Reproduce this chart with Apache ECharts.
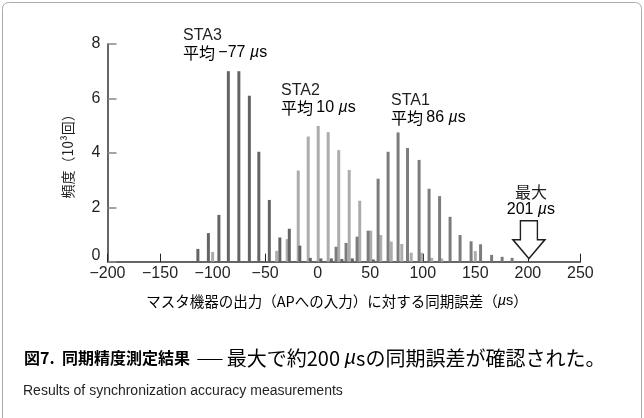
<!DOCTYPE html>
<html><head><meta charset="utf-8">
<script src="https://cdn.jsdelivr.net/npm/echarts@6.0.0/dist/echarts.min.js"></script>
<style>html,body{margin:0;padding:0;background:#fff}#c{width:644px;height:418px}</style>
</head><body><div id="c"></div>
<script>
// ---- data (µs bin position, frequency in 10^3) ----
const sta3Pos = [-114, -104, -94, -85, -75, -65, -56, -46, -36, -27, -17, -7, 3, 13, 23, 33, 53];
const sta3Val = [0.47, 1.05, 1.72, 7.0, 7.0, 6.1, 4.04, 2.27, 0.89, 1.21, 0.59, 0.14, 0.12, 0.12, 0.1, 0.12, 0.08];
const sta2Pos = [-100, -39, -29, -18.5, -9, 0.5, 10, 20, 30, 40, 50.5, 60, 70, 80, 89, 99, 108.5, 118, 150];
const sta2Val = [0.36, 0.4, 0.83, 3.35, 4.6, 4.99, 4.76, 4.1, 3.37, 2.24, 1.14, 0.98, 0.74, 0.65, 0.33, 0.33, 0.14, 0.12, 0.39];
const sta1Pos = [17.5, 27, 37.5, 48, 57.5, 67, 76.5, 85.5, 96.5, 106, 116, 126, 135.5, 146, 155, 165.5, 175.5, 185];
const sta1Val = [0.55, 0.69, 0.92, 1.14, 3.05, 4.04, 4.75, 4.18, 3.74, 2.68, 2.41, 1.65, 0.98, 0.75, 0.64, 0.25, 0.18, 0.14];
const xMin = -200, xMax = 250, xStep = 50;
const yMin = 0, yMax = 8, yStep = 2;
const maxError = 201;
const labels = [
  {name: 'STA3', mean: '−77'},
  {name: 'STA2', mean: '10'},
  {name: 'STA1', mean: '86'}
];

const F = "'Liberation Sans', Arial, 'Noto Sans CJK JP', sans-serif";
const J = "'Noto Sans CJK JP', sans-serif";
const TXT = '#231f20';
const chart = echarts.init(document.getElementById('c'), null, {renderer: 'canvas'});

function pairs(p, v) { return p.map((x, i) => [x, v[i]]); }
const barBase = {type: 'bar', barWidth: 3, barGap: '-100%', silent: true, animation: false};

chart.setOption({
  backgroundColor: '#fff',
  animation: false,
  grid: {left: 107.5, right: 63.6, top: 44, bottom: 156.3, containLabel: false},
  xAxis: {
    type: 'value', min: xMin, max: xMax, interval: xStep,
    axisLine: {show: true, onZero: false, lineStyle: {color: '#333', width: 1.5}},
    axisTick: {show: true, inside: true, length: 8, lineStyle: {color: '#222', width: 1}},
    axisLabel: {color: TXT, fontFamily: F, fontSize: 16, margin: 4,
      formatter: v => String(v).replace('-', '−')},
    splitLine: {show: false}
  },
  yAxis: {
    type: 'value', min: yMin, max: yMax, interval: yStep,
    name: '頻度（10³回）', nameLocation: 'middle', nameGap: 33, nameRotate: 90,
    nameTextStyle: {color: TXT, fontFamily: J, fontSize: 14},
    axisLine: {show: true, onZero: false, lineStyle: {color: '#333', width: 1.5}},
    axisTick: {show: true, inside: true, length: 9, lineStyle: {color: '#888', width: 1.5}},
    axisLabel: {color: TXT, fontFamily: F, fontSize: 16, margin: 7,
      formatter: v => v === 0 ? '{z|0}' : String(v),
      rich: {z: {fontFamily: F, fontSize: 16, color: TXT, padding: [0, 0, 12, 0]}}},
    splitLine: {show: false}
  },
  series: [
    Object.assign({}, barBase, {name: 'STA2', data: pairs(sta2Pos, sta2Val), itemStyle: {color: '#acacac'}}),
    Object.assign({}, barBase, {name: 'STA3', data: pairs(sta3Pos, sta3Val), itemStyle: {color: '#646464'}}),
    Object.assign({}, barBase, {name: 'STA1', data: pairs(sta1Pos, sta1Val), itemStyle: {color: '#7c7c7c'},
      markPoint: {
        silent: true,
        symbol: 'path://M7.5,0 L24.5,0 L24.5,19 L32,19 L16,38 L0,19 L7.5,19 Z',
        symbolSize: [32, 38], symbolOffset: [0, -22],
        itemStyle: {color: '#fff', borderColor: '#231f20', borderWidth: 1.5},
        label: {show: false},
        data: [{coord: [maxError, 0]}]
      }})
  ]
});

const p = chart.convertToPixel({gridIndex: 0}, [maxError, 0]);
const rich = {
  t: {fontFamily: F, fontSize: 16, color: TXT},
  j: {fontFamily: J, fontSize: 16, color: TXT},
  mu: {fontFamily: F, fontSize: 16, color: TXT, fontStyle: 'italic'}
};
function annot(x, y, lab) {
  return [
    {type: 'text', left: x, top: y - 9, style: {text: lab.name, font: '16px ' + F, fill: TXT}},
    {type: 'text', left: x, top: y + 8, style: {text: '{j|平均} {t|' + lab.mean + ' }{mu|µ}{t|s}', rich: rich}}
  ];
}
const capRich = {
  b: {fontFamily: J, fontSize: 16, fontWeight: 'bold', color: TXT},
  d: {fontFamily: J, fontSize: 16, color: TXT},
  n: {fontFamily: J, fontSize: 20, color: TXT},
  mu: {fontFamily: F, fontSize: 20, fontStyle: 'italic', color: TXT}
};
chart.setOption({
  graphic: [].concat(
    [{type: 'rect', shape: {x: 2.5, y: 2.5, width: 639, height: 440, r: 6}, style: {fill: 'none', stroke: '#aaa', lineWidth: 1}, silent: true}],
    annot(183, 37, labels[0]),
    annot(281, 92, labels[1]),
    annot(391, 102, labels[2]),
    [
      {type: 'text', x: p[0] + 2, y: 192, style: {text: '最大', font: '16px ' + J, fill: TXT, textAlign: 'center', textVerticalAlign: 'middle'}},
      {type: 'text', x: p[0] + 2, y: 210, style: {text: '{t|' + maxError + ' }{mu|µ}{t|s}', rich: rich, textAlign: 'center', textVerticalAlign: 'middle'}},
      {type: 'text', x: 337, y: 301, style: {text: '{j|マスタ機器の出力（APへの入力）に対する同期誤差（}{mu|µ}{t|s}{j|）}',
        rich: {j: {fontFamily: J, fontSize: 14.5, color: TXT}, t: {fontFamily: F, fontSize: 14.5, color: TXT}, mu: {fontFamily: F, fontSize: 14.5, color: TXT, fontStyle: 'italic'}},
        textAlign: 'center', textVerticalAlign: 'middle'}},
      {type: 'text', left: 24, top: 348, style: {text: '{b|図7.  同期精度測定結果}  {d|——} {n|最大で約200 }{mu|µ}{n|sの同期誤差が確認された。}', rich: capRich}},
      {type: 'text', left: 23, top: 384, style: {text: 'Results of synchronization accuracy measurements', font: '14px ' + F, fill: TXT}}
    ]
  )
});
</script>
</body></html>
